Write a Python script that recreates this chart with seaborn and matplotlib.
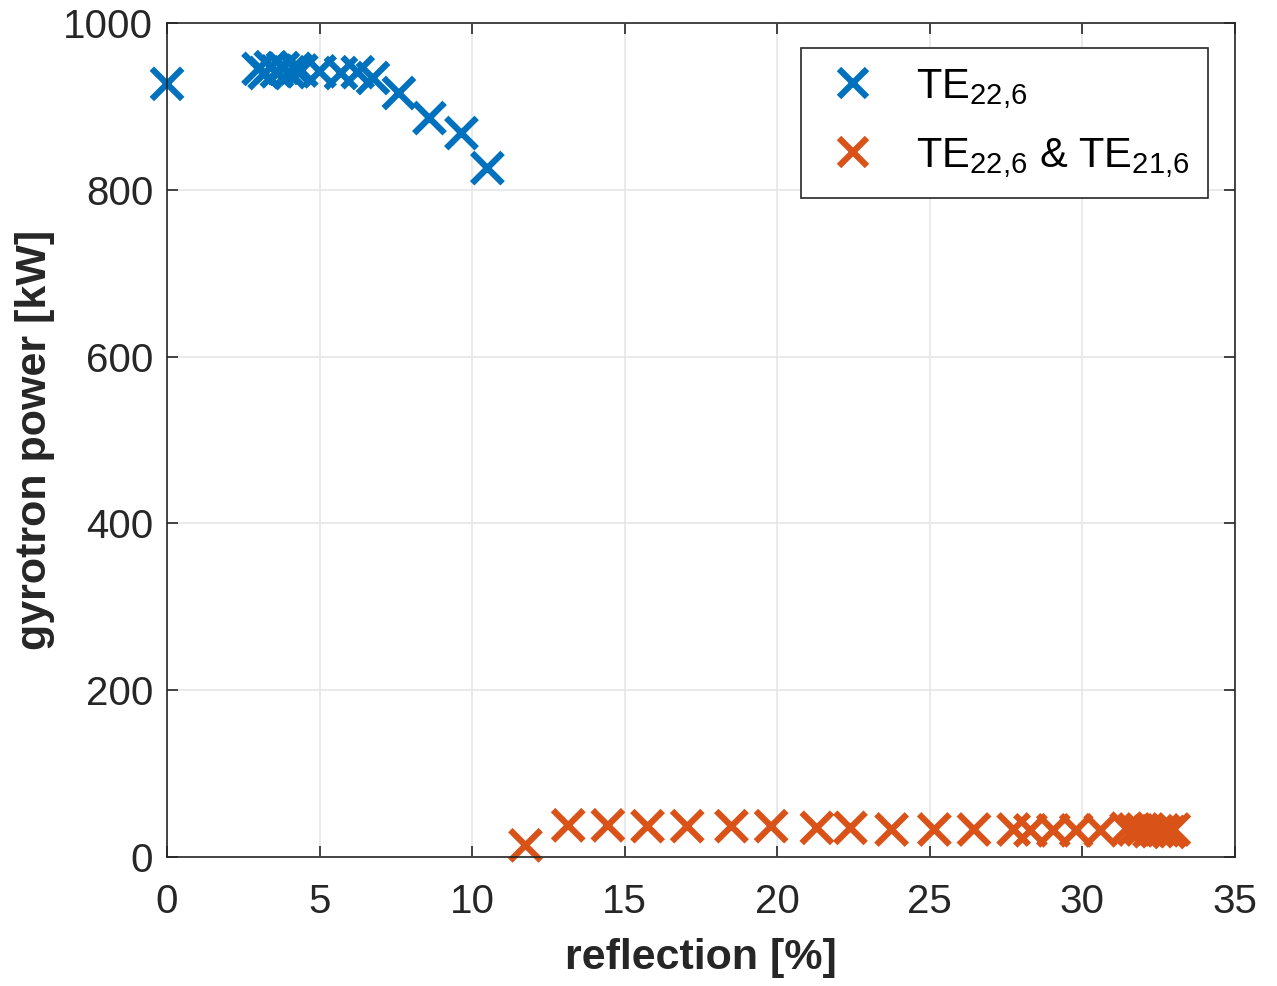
import numpy as np
import pandas as pd
import matplotlib
matplotlib.use("Agg")
import matplotlib.pyplot as plt
import seaborn as sns

# Data
blue_x = [0.0, 3.0, 3.2, 3.4, 3.6, 3.8, 4.0, 4.2, 4.4, 5.0, 5.7, 6.25, 6.75, 7.6, 8.6, 9.65, 10.5]
blue_y = [927, 945, 940, 947, 942, 946, 941, 945, 943, 942, 940, 941, 934, 916, 886, 868, 826]

orange_x = [11.75, 13.15, 14.45, 15.75, 17.05, 18.5, 19.8, 21.3, 22.4, 23.75, 25.15, 26.45,
            27.75, 28.3, 29.05, 29.8, 30.6, 31.45, 31.7, 31.95, 32.2, 32.45, 32.65, 32.85, 33.0]
orange_y = [14, 38, 38, 37, 37, 37, 37, 35, 35, 33, 33, 33,
            33, 32, 32, 32, 32, 34, 33, 33, 31, 31, 32, 30, 33]

series_labels = [r'TE$_{22{,}6}$', r'TE$_{22{,}6}$ & TE$_{21{,}6}$']
colors = ['#0072BD', '#D95319']

df = pd.DataFrame({
    'reflection': blue_x + orange_x,
    'power': blue_y + orange_y,
    'mode': [series_labels[0]] * len(blue_x) + [series_labels[1]] * len(orange_x),
})

sns.set_style('ticks')
plt.rcParams['font.family'] = ['Liberation Sans', 'DejaVu Sans']
plt.rcParams['mathtext.fontset'] = 'custom'
plt.rcParams['mathtext.rm'] = 'Liberation Sans'
plt.rcParams['mathtext.it'] = 'Liberation Sans'
plt.rcParams['mathtext.bf'] = 'Liberation Sans:bold'

fig = plt.figure(figsize=(12.77, 9.86), dpi=100)
ax = fig.add_axes([0.1308, 0.1308, 0.8362, 0.8459])

sns.scatterplot(data=df, x='reflection', y='power', hue='mode', palette=colors,
                marker='x', s=480, linewidth=4.5, ax=ax, legend=True)
for coll in ax.collections:
    coll.set_clip_on(False)

ax.set_xlim(0, 35)
ax.set_ylim(0, 1000)
ax.set_xticks(np.arange(0, 36, 5))
ax.set_yticks(np.arange(0, 1001, 200))
ax.grid(True, color='#e6e6e6', linewidth=1.2)
ax.set_axisbelow(True)
for sp in ax.spines.values():
    sp.set_color('#262626')
    sp.set_linewidth(1.2)
ax.tick_params(direction='in', length=8, width=1.2, colors='#262626', labelsize=29,
               top=True, right=True)
ax.tick_params(axis='x', pad=19)
ax.tick_params(axis='y', pad=10)
ax.set_xlabel('reflection [%]', fontsize=31, fontweight='bold', color='#262626', labelpad=12)
ax.set_ylabel('gyrotron power [kW]', fontsize=31, fontweight='bold', color='#262626', labelpad=6)

leg = ax.legend(loc='upper right', fontsize=30, frameon=True, fancybox=False,
                framealpha=1, edgecolor='#262626', borderpad=0.45, handletextpad=0.7,
                labelspacing=0.6, markerscale=0.95, borderaxespad=0, handlelength=1.6,
                bbox_to_anchor=(0.975, 0.970))
leg.get_frame().set_linewidth(1.2)
for t in leg.get_texts():
    t.set_color('black')

fig.savefig('out.png', dpi=100)
